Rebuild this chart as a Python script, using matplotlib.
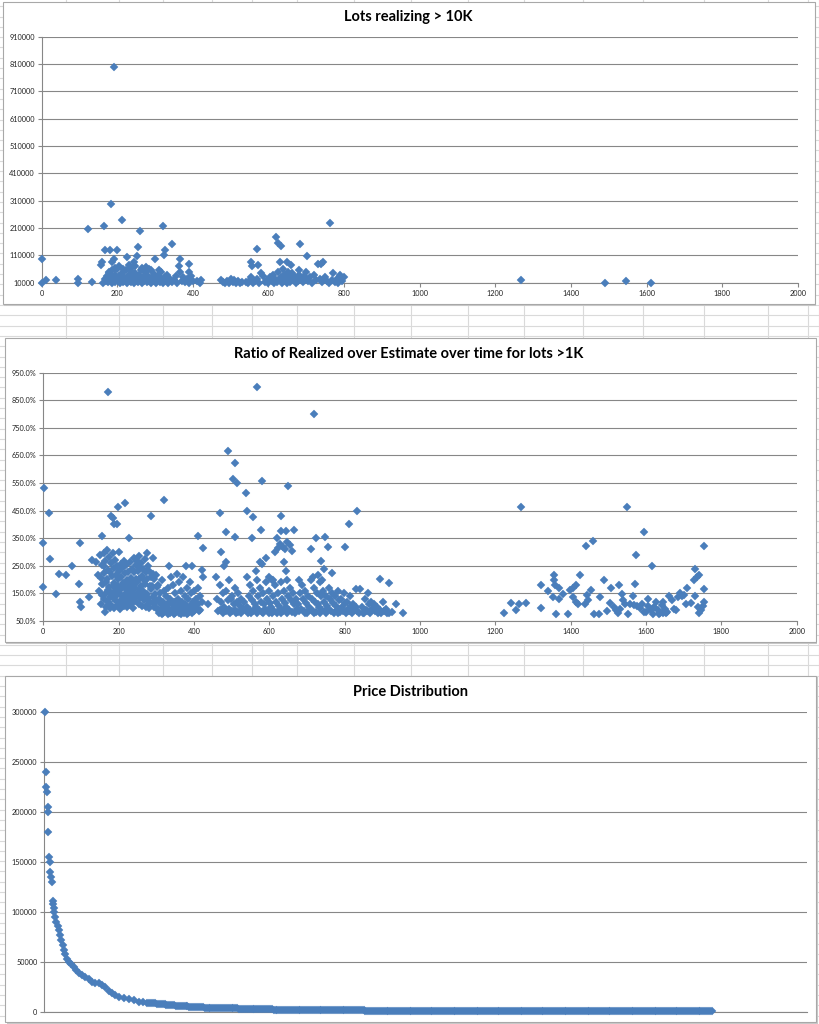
import numpy as np
import matplotlib
matplotlib.use("Agg")
import matplotlib.pyplot as plt
from matplotlib.patches import Rectangle
from matplotlib.ticker import FuncFormatter

# ---------------- DATA ----------------
titles = ["Lots realizing > 10K",
          "Ratio of Realized over Estimate over time for lots >1K",
          "Price Distribution"]

# Chart 1: lots realizing > 10K (x = lot number, y = price)
lots_sparse_x = [0, 0, 12, 38, 95, 97, 132, 122, 166, 184, 191, 213, 259, 322, 345, 256, 326, 323,
                 167, 182, 198, 225, 244, 253, 158, 160, 186, 192, 300, 290, 366, 362, 391, 390]
lots_sparse_y = [95000, 10000, 20000, 20000, 10000, 22000, 12000, 205000, 217000, 298000, 800000,
                 239000, 199000, 219000, 150000, 139000, 130000, 111000, 130000, 130000, 130000,
                 105000, 87000, 109000, 75000, 87000, 85000, 98000, 95000, 58000, 95000, 70000,
                 77000, 48000]
lots_a_x = [163, 168, 170, 172, 175, 177, 180, 182, 185, 187,
            190, 193, 195, 197, 200, 202, 205, 207, 210, 212,
            215, 217, 220, 222, 225, 227, 230, 232, 235, 238,
            240, 242, 245, 247, 250, 252, 255, 257, 260, 262,
            265, 268, 270, 272, 275, 278, 280, 283, 285, 288,
            292, 295, 298, 302, 305, 308, 312, 315, 318, 320,
            325, 328, 332, 335, 340, 345, 350, 355, 358, 365,
            370, 375, 380, 385, 390, 395, 400, 410, 418, 422,
            205, 215, 235, 265, 275, 230, 195, 178, 248, 310]
lots_a_y = [10000, 25000, 15000, 35000, 12000, 45000, 20000, 30000, 10000, 55000,
            18000, 40000, 12000, 25000, 60000, 15000, 35000, 10000, 22000, 45000,
            12000, 30000, 18000, 55000, 10000, 28000, 38000, 15000, 12000, 50000,
            22000, 32000, 10000, 45000, 18000, 28000, 12000, 38000, 20000, 55000,
            10000, 30000, 15000, 48000, 25000, 12000, 35000, 18000, 60000, 10000,
            28000, 15000, 42000, 10000, 22000, 35000, 12000, 48000, 25000, 10000,
            30000, 15000, 38000, 10000, 25000, 12000, 20000, 35000, 10000, 50000,
            15000, 30000, 12000, 25000, 10000, 35000, 15000, 18000, 10000, 20000,
            70000, 60000, 65000, 62000, 68000, 75000, 65000, 48000, 72000, 55000]
lots_b_x = [475, 480, 485, 490, 495, 500, 505, 510, 515, 520, 525, 530]
lots_b_y = [20000, 12000, 10000, 15000, 10000, 22000, 12000, 20000, 10000, 15000, 10000, 12000]
lots_c_x = [569, 554, 556, 572, 580, 620, 625, 632, 630, 650, 660, 684, 701, 763, 745, 730, 738,
            770, 790, 800, 680, 700,
            540, 545, 550, 555, 560, 565, 570, 575, 585, 590,
            595, 600, 605, 610, 612, 615, 618, 622, 625, 628,
            632, 635, 638, 640, 642, 645, 648, 652, 655, 658,
            662, 665, 668, 672, 675, 678, 682, 686, 690, 694,
            698, 705, 710, 715, 720, 725, 735, 742, 750, 755,
            760, 768, 775, 780, 785, 795]
lots_c_y = [135000, 87000, 70000, 75000, 45000, 178000, 156000, 145000, 87000, 87000, 75000,
            150000, 109000, 227000, 85000, 78000, 80000, 45000, 38000, 32000, 55000, 50000,
            12000, 10000, 20000, 30000, 10000, 15000, 25000, 10000, 35000, 12000,
            20000, 10000, 30000, 15000, 40000, 10000, 25000, 12000, 50000, 20000,
            30000, 10000, 60000, 15000, 40000, 25000, 10000, 50000, 30000, 12000,
            45000, 20000, 35000, 10000, 28000, 15000, 40000, 22000, 12000, 35000,
            25000, 15000, 30000, 10000, 38000, 20000, 25000, 12000, 30000, 15000,
            10000, 20000, 12000, 25000, 10000, 15000]
lots_far_x = [1268, 1489, 1546, 1612]
lots_far_y = [19000, 10000, 18000, 10000]

# Chart 2: ratio realized / estimate (percent)
ratio_s_x = [3, 15, 0, 19, 0, 34, 42, 59, 77, 97, 95, 97, 100, 122, 128, 140, 145, 155, 160, 156,
             172, 181, 185, 187, 196, 199, 217, 227, 165, 287, 321, 411, 423, 420, 423, 437, 410,
             458, 470, 473, 484, 485, 480, 491, 504, 510, 514, 508, 539, 541, 557, 554, 566, 581,
             579, 590, 575, 580, 565, 600, 610, 630, 621, 630, 645, 650, 640, 645, 665, 718, 710,
             723, 749, 755, 736, 745, 766, 715, 730, 740, 802, 811, 833, 830, 840, 893, 917, 935,
             956, 615, 622, 628, 635, 642, 648, 655, 660]
ratio_s_y = [531, 440, 334, 273, 174, 148, 220, 217, 250, 334, 184, 120, 100, 136, 271, 265, 215,
             185, 250, 359, 879, 430, 425, 400, 400, 464, 479, 350, 81, 432, 489, 359, 313, 235,
             210, 112, 170, 208, 440, 301, 374, 265, 250, 667, 565, 621, 549, 356, 515, 449, 426,
             350, 897, 557, 380, 280, 265, 255, 230, 210, 200, 432, 350, 375, 375, 540, 265, 230,
             380, 799, 310, 350, 356, 320, 268, 240, 225, 210, 215, 200, 317, 400, 449, 165, 165,
             201, 186, 112, 80, 300, 315, 330, 320, 310, 335, 325, 305]
ratio_a_x = [150, 152, 149, 155, 157, 154, 160, 162, 159, 161, 165, 167, 164, 166,
             170, 172, 169, 171, 173, 175, 177, 174, 176, 178, 180, 182, 179, 181,
             185, 187, 184, 186, 188, 190, 192, 189, 191, 193, 195, 197, 194, 196, 198,
             200, 202, 199, 201, 203, 205, 207, 204, 206, 208, 210, 212, 209, 211, 213,
             215, 217, 214, 216, 218, 220, 222, 219, 221, 223, 225, 227, 224, 226,
             230, 232, 229, 231, 233, 235, 237, 234, 236, 238, 240, 242, 239, 241, 243,
             245, 247, 244, 246, 250, 252, 249, 251, 253, 255, 257, 254, 256, 258,
             260, 262, 259, 261, 263, 265, 267, 264, 266, 270, 272, 269, 271, 273,
             275, 277, 274, 276, 278, 280, 282, 279, 281, 285, 287, 284,
             290, 292, 289, 291, 293, 295, 297, 294, 300, 302, 299, 301]
ratio_a_y = [290, 205, 158, 252, 143, 112, 298, 224, 183, 128, 268, 193, 147, 102,
             307, 236, 204, 163, 118, 283, 228, 172, 137, 96, 262, 212, 153, 108,
             296, 243, 178, 133, 98, 272, 218, 188, 158, 123, 248, 203, 168, 143, 107,
             301, 233, 177, 152, 94, 258, 208, 163, 127, 117, 243, 187, 172, 138, 104,
             268, 223, 183, 148, 126, 253, 197, 167, 133, 99, 228, 188, 153, 118,
             263, 207, 177, 142, 112, 238, 192, 162, 128, 96, 278, 227, 182, 147, 122,
             252, 202, 168, 137, 268, 232, 192, 153, 113, 284, 243, 202, 163, 132,
             262, 213, 178, 147, 103, 238, 197, 158, 127, 273, 227, 183, 142, 102,
             298, 248, 203, 148, 113, 232, 178, 133, 97, 208, 167, 118,
             278, 222, 178, 138, 102, 203, 148, 112, 218, 172, 123, 92]
ratio_b_x = [305, 307, 304, 306, 310, 312, 309, 315, 317, 314, 316, 320, 322, 319, 325, 327, 324,
             330, 332, 329, 331, 335, 337, 334, 336, 340, 342, 339, 345, 347, 344, 346, 350, 352, 349,
             355, 357, 354, 356, 360, 362, 359, 365, 367, 364, 366, 370, 372, 369, 375, 377, 374,
             380, 382, 379, 381, 385, 387, 384, 390, 392, 389, 391, 395, 397, 394, 400, 402, 399,
             405, 407, 410, 412, 415, 417, 420]
ratio_b_y = [180, 130, 95, 80, 150, 110, 85, 200, 120, 90, 75, 160, 105, 80, 140, 100, 85,
             170, 115, 90, 75, 250, 130, 95, 80, 210, 110, 85, 180, 120, 90, 75, 150, 100, 80,
             220, 130, 95, 85, 190, 110, 80, 160, 120, 90, 75, 210, 100, 85, 140, 110, 80,
             250, 170, 95, 75, 130, 90, 80, 190, 150, 105, 85, 250, 120, 80, 160, 100, 85,
             130, 95, 110, 85, 140, 90, 120]
ratio_c_x = [462, 465, 470, 473, 468, 478, 481, 476, 486, 489, 484, 494, 497, 492, 495, 502, 505, 500,
             510, 513, 508, 511, 518, 521, 516, 526, 529, 524, 534, 537, 542, 545, 540, 543,
             550, 553, 548, 551, 558, 561, 556, 566, 569, 564, 567, 574, 577, 572, 582, 585, 580, 583,
             590, 593, 588, 598, 601, 596, 599, 606, 609, 604, 607, 614, 617, 612, 622, 625, 620,
             630, 633, 628, 631, 638, 641, 636, 646, 649, 644, 647, 654, 657, 652, 662, 665, 660,
             670, 673, 668, 678, 681, 676, 679, 686, 689, 684, 694, 697, 692, 695, 702, 705, 700,
             710, 713, 708, 718, 721, 716, 719, 726, 729, 724, 734, 737, 732, 735, 742, 745, 740,
             750, 753, 748, 751, 758, 761, 756, 766, 769, 764, 774, 777, 772, 782, 785, 780, 783,
             790, 793, 788, 798, 801, 796, 806, 809, 804, 814, 817, 812, 822, 825, 820, 830, 833,
             838, 846, 849, 854, 857, 852, 862, 865, 860, 870, 873, 868, 878, 881, 886, 889,
             894, 897, 902, 905, 910, 913, 918, 926]
ratio_c_y = [130, 85, 180, 120, 90, 150, 100, 80, 160, 125, 85, 200, 130, 95, 78, 140, 110, 85,
             170, 120, 90, 80, 150, 105, 82, 130, 95, 78, 120, 90, 210, 140, 100, 80,
             180, 125, 90, 78, 160, 110, 85, 200, 140, 100, 80, 170, 120, 90, 150, 110, 82, 78,
             190, 130, 95, 160, 115, 85, 78, 200, 140, 100, 80, 180, 120, 88, 150, 105, 80,
             190, 130, 95, 78, 160, 115, 85, 200, 140, 100, 80, 170, 125, 90, 150, 110, 82,
             130, 95, 78, 200, 150, 110, 85, 180, 130, 95, 160, 115, 85, 78, 140, 100, 80,
             200, 130, 95, 170, 120, 88, 78, 150, 110, 82, 190, 140, 100, 80, 160, 120, 90,
             140, 105, 85, 78, 170, 130, 95, 150, 115, 85, 140, 105, 80, 160, 125, 90, 78,
             130, 100, 82, 150, 115, 88, 120, 95, 80, 140, 105, 85, 110, 90, 78, 100, 85,
             80, 100, 80, 130, 90, 78, 150, 110, 85, 120, 95, 80, 110, 85, 100, 80,
             90, 78, 120, 85, 95, 78, 80, 82]
ratio_r_x = [1222, 1242, 1254, 1263, 1281, 1267, 1320, 1322, 1339, 1355,
             1357, 1358, 1352, 1360, 1370, 1369, 1380, 1394, 1398, 1405,
             1413, 1407, 1413, 1420, 1426, 1440, 1458, 1438, 1442, 1447,
             1454, 1462, 1476, 1478, 1488, 1497, 1506, 1504, 1516, 1520,
             1525, 1530, 1528, 1535, 1538, 1550, 1545, 1553, 1558, 1565,
             1572, 1574, 1594, 1615, 1706, 1710, 1719, 1730, 1727, 1735,
             1741, 1730, 1737, 1740, 1745, 1750, 1753, 1753, 1755,
             1568, 1577, 1584, 1589, 1595, 1600, 1604, 1606, 1612, 1618, 1621, 1627,
             1633, 1635, 1642, 1646, 1650, 1655, 1662, 1668, 1674, 1680, 1686, 1695,
             1638, 1645, 1652, 1690, 1700]
ratio_r_y = [79, 117, 91, 113, 117, 464, 98, 179, 159, 216,
             200, 179, 137, 77, 171, 131, 149, 77, 161, 171,
             179, 137, 119, 110, 216, 322, 340, 111, 143, 125,
             164, 77, 77, 137, 200, 86, 171, 115, 100, 90,
             80, 95, 179, 149, 125, 464, 110, 77, 110, 140,
             183, 288, 373, 250, 113, 171, 115, 240, 200, 210,
             216, 140, 100, 80, 90, 105, 322, 120, 167,
             107, 103, 98, 110, 83, 83, 131, 103, 89, 77, 101, 119,
             89, 77, 107, 119, 95, 83, 141, 125, 95, 89, 137, 139,
             80, 80, 80, 150, 145]

# Chart 3: price distribution (sorted descending), rank position and value
price_head_rank = [1.3, 2.2, 2.6, 3.5, 4.8, 5.0, 5.2, 6.5, 6.9, 7.9, 8.7, 9.6, 10.9, 11.4, 12.2,
                   13.1, 14.4, 15.7, 17.5, 19.2, 21.0, 22.3, 24.0, 25.3, 27.5, 29.7, 31.9, 35.0,
                   38.4, 41.9, 45.4, 49.3, 53.7, 58.0, 62.4, 66.8, 71.2, 75.5, 79.9, 84.3, 88.6,
                   93.0, 97.4, 104, 110.5, 117, 123.6, 130]
price_head_value = [300000, 240000, 225000, 220000, 205000, 200000, 180000, 155000, 150000,
                    140000, 135000, 130000, 111000, 108000, 104000, 100000, 95000, 90000, 86000,
                    82000, 77000, 72000, 67000, 62000, 58000, 53000, 50000, 48000, 45000, 42000,
                    39000, 37000, 35000, 32500, 30000, 29000, 28500, 27000, 24500, 21000, 18500,
                    16500, 15000, 13500, 12500, 11500, 10000, 9500]
price_tail_value = ([9000, 8900, 8800, 8500, 8300, 8100, 8000, 7800, 7600, 7400, 7200, 7000,
                     6800, 6600, 6400, 6200, 6000, 5850, 5700, 5550, 5400, 5250, 5100, 4950,
                     4800, 4650, 4500, 4400, 4300, 4250, 4200, 4100, 4000, 3950, 3900, 3850,
                     3800, 3750, 3700, 3650, 3600, 3550, 3500, 3450, 3400, 3350, 3300, 3250,
                     3200, 3100, 3000, 2900, 2800, 2700, 2600, 2550]
                    + [2500] * 10 + [1800] * 48 + [1000] * 142 + [500] * 40)

lot_ticks = list(range(0, 2001, 200))
lots_yticks = list(range(10000, 910001, 100000))
ratio_yticks = list(range(50, 951, 100))
price_yticks = list(range(0, 300001, 50000))

# ---------------- FIGURE ----------------
W, H = 820, 1024
fig = plt.figure(figsize=(W / 100, H / 100), dpi=100)
plt.rcParams['font.family'] = ['Lato', 'DejaVu Sans']

bg = fig.add_axes([0, 0, 1, 1])
bg.set_xlim(0, W)
bg.set_ylim(H, 0)
bg.axis('off')

# spreadsheet gridlines behind charts
grid_c = '#dadada'
for cx in [66, 119, 163, 212, 252, 297, 354, 411, 468, 524, 583, 643, 704, 768, 808, 819]:
    bg.plot([cx, cx], [0, H], color=grid_c, lw=0.8, zorder=0)
yk = 305.0
while yk > 0:
    yk -= 10.3
yk += 10.3
while yk < H:
    bg.plot([0, W], [yk, yk], color=grid_c, lw=0.8, zorder=0)
    yk += 10.3

boxes = [(3, 2, 815, 304), (5, 337.5, 816, 642), (5.5, 675.5, 816.5, 1022)]
for (x0, y0, x1, y1) in boxes:
    bg.add_patch(Rectangle((x0 + 1.5, y0 + 1.5), x1 - x0, y1 - y0, facecolor='#c9c9c9',
                           edgecolor='none', zorder=1))
    bg.add_patch(Rectangle((x0, y0), x1 - x0, y1 - y0, facecolor='white',
                           edgecolor='#a8a8a8', lw=0.8, zorder=2))

title_pos = [(408, 17), (409, 353.5), (410.5, 692)]
for t, (tx, ty) in zip(titles, title_pos):
    fig.text(tx / W, 1 - ty / H, t, ha='center', va='center', fontsize=10.5,
             fontweight='bold', color='black')

axc = '#878787'
mcol = '#4A7EBB'


def make_ax(left, right, top, bottom):
    ax = fig.add_axes([left / W, 1 - bottom / H, (right - left) / W, (bottom - top) / H])
    ax.set_facecolor('none')
    for s in ['top', 'right']:
        ax.spines[s].set_visible(False)
    for s in ['left', 'bottom']:
        ax.spines[s].set_color(axc)
        ax.spines[s].set_linewidth(0.8)
    ax.yaxis.grid(True, color=axc, lw=0.8)
    ax.set_axisbelow(True)
    ax.tick_params(direction='out', length=3, width=0.8, color=axc, labelsize=5.3,
                   labelcolor='#222222', pad=2)
    return ax


def scatter(ax, x, y):
    ax.plot(x, y, linestyle='none', marker='D', ms=4.1, mfc=mcol, mec=mcol, mew=0.3,
            clip_on=False, zorder=3)


# Chart 1
ax1 = make_ax(41.7, 797.7, 36.7, 282.7)
for xs, ys in [(lots_sparse_x, lots_sparse_y), (lots_a_x, lots_a_y), (lots_b_x, lots_b_y),
               (lots_c_x, lots_c_y), (lots_far_x, lots_far_y)]:
    scatter(ax1, xs, ys)
ax1.set_xlim(0, 2000)
ax1.set_ylim(10000, 910000)
ax1.set_xticks(lot_ticks)
ax1.set_yticks(lots_yticks)
ax1.yaxis.set_major_formatter(FuncFormatter(lambda v, p: f"{int(round(v))}"))

# Chart 2
ax2 = make_ax(43.3, 796.7, 372.7, 621)
for xs, ys in [(ratio_s_x, ratio_s_y), (ratio_a_x, ratio_a_y), (ratio_b_x, ratio_b_y),
               (ratio_c_x, ratio_c_y), (ratio_r_x, ratio_r_y)]:
    scatter(ax2, xs, ys)
ax2.set_xlim(0, 2000)
ax2.set_ylim(50, 950)
ax2.set_xticks(lot_ticks)
ax2.set_yticks(ratio_yticks)
ax2.yaxis.set_major_formatter(FuncFormatter(lambda v, p: f"{v:.1f}%"))

# Chart 3
ax3 = make_ax(44.3, 807.3, 711.7, 1011.7)
tail_rank = np.linspace(135, 875, len(price_tail_value))
scatter(ax3, price_head_rank, price_head_value)
scatter(ax3, tail_rank, price_tail_value)
ax3.set_xlim(0, 1000)
ax3.set_ylim(0, 300000)
ax3.set_xticks([])
ax3.set_yticks(price_yticks)
ax3.yaxis.set_major_formatter(FuncFormatter(lambda v, p: f"{int(round(v))}"))

fig.savefig("out.png", dpi=100)
